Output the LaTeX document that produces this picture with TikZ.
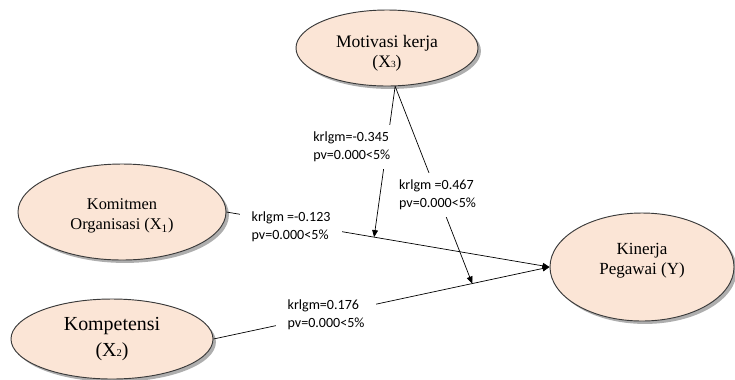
\documentclass[tikz,border=0pt]{standalone}
\usepackage{fontspec}
\setmainfont{Liberation Serif}
\newfontfamily\labelfont{Carlito}
\usepackage{xcolor}
\usepackage{tikz}
\usetikzlibrary{positioning,shadows,arrows.meta,shapes.geometric}
\definecolor{PeachFill}{HTML}{FBE5D6}
\definecolor{EdgeGray}{HTML}{3A3A3A}
\definecolor{ShadowGray}{HTML}{8C8C8C}

\tikzset{
  construct/.style={ellipse,draw=EdgeGray,line width=0.8pt,fill=PeachFill,align=center,inner sep=0pt,
    drop shadow={shadow xshift=2.5pt,shadow yshift=-2.5pt,fill=ShadowGray,opacity=0.7}},
  pathlabel/.style={fill=white,align=left,inner xsep=10pt,inner ysep=6pt,
    font=\labelfont\fontsize{12}{15.3}\selectfont},
  link/.style={draw=black,line width=0.6pt,-{Triangle[length=6pt,width=5pt]}}
}

\begin{document}
\begin{tikzpicture}[x=0.03cm,y=-0.03cm]
  \useasboundingbox (0,0) rectangle (735,379);
  \node[construct,minimum width=5.46cm,minimum height=2.28cm,font=\fontsize{15}{17}\selectfont] (mot) at (387,48) {\rule{0pt}{19pt}Motivasi kerja\\(X{\footnotesize 3})};
  \node[construct,minimum width=6.24cm,minimum height=2.88cm,font=\fontsize{14}{17}\selectfont] (kom) at (122,212) {\rule{0pt}{16pt}Komitmen\\Organisasi (X\textsubscript{1})};
  \node[construct,minimum width=6.06cm,minimum height=2.4cm,font=\fontsize{17}{23}\selectfont] (komp) at (112,339) {Kompetensi\\(X{\small 2})};
  \node[construct,minimum width=5.52cm,minimum height=3.24cm,font=\fontsize{14.5}{17}\selectfont] (kin) at (642,267) {Kinerja\\Pegawai (Y)\rule[-14pt]{0pt}{1pt}};

  % direct paths
  \draw[link] (kom.east) -- node[pathlabel,pos=0.2,yshift=-3pt] (lblkom) {krlgm =-0.123\\pv=0.000<5\%} coordinate[pos=0.457] (hitkom) (kin.west);
  \draw[link] (komp.east) -- node[pathlabel,pos=0.335] (lblkomp) {krlgm=0.176\\pv=0.000<5\%} coordinate[pos=0.77] (hitkomp) (kin.west);

  % moderating paths
  \draw[link] (mot.-78) -- node[pathlabel,pos=0.4,xshift=-1.05cm] (lblmota) {krlgm=-0.345\\pv=0.000<5\%} (hitkom);
  \draw[link] (mot.-78) -- node[pathlabel,pos=0.55] (lblmotb) {krlgm =0.467\\pv=0.000<5\%} (hitkomp);
\end{tikzpicture}
\end{document}
